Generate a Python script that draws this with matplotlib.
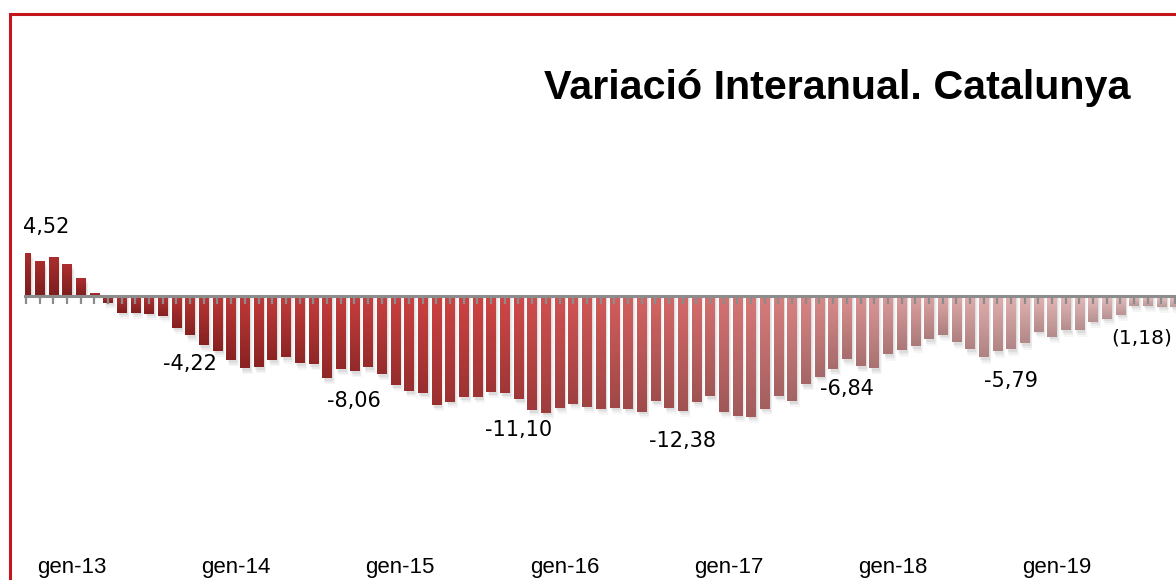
import numpy as np
import matplotlib
matplotlib.use("Agg")
import matplotlib.pyplot as plt
from matplotlib.colors import LinearSegmentedColormap, to_rgb
from matplotlib.patches import Rectangle
from matplotlib.transforms import blended_transform_factory

# monthly year-on-year variation, Catalunya (one bar per month, gen-13 onward)
values = [4.52, 3.65, 4.07, 3.34, 1.86, 0.28, -0.74, -1.79, -1.79, -1.93,
          -2.11, -3.37, -4.21, -5.26, -5.86, -6.84, -7.68, -7.58, -6.84, -6.53,
          -7.16, -7.26, -8.74, -7.79, -8.00, -7.58, -8.32, -9.47, -10.11, -10.32,
          -11.58, -11.26, -10.74, -10.74, -10.21, -10.32, -10.95, -12.11, -12.42, -11.89,
          -11.47, -11.79, -12.00, -11.89, -12.00, -12.32, -11.16, -11.89, -12.21, -11.26,
          -10.63, -12.32, -12.74, -12.84, -12.00, -10.63, -11.16, -9.37, -8.60, -7.79,
          -6.74, -7.47, -7.68, -6.21, -5.79, -5.37, -4.63, -4.11, -4.95, -5.68,
          -6.53, -5.89, -5.68, -5.05, -3.79, -4.32, -3.68, -3.68, -2.74, -2.42,
          -2.00, -1.05, -1.05, -1.16, -1.16]

year_labels = ["gen-13", "gen-14", "gen-15", "gen-16", "gen-17", "gen-18", "gen-19"]

# data labels written on the chart: (month index, text)
note_idx = [1.5, 12, 24, 36, 48, 60, 72]
note_txt = ["4,52", "-4,22", "-8,06", "-11,10", "-12,38", "-6,84", "-5,79"]
note_y = [7.27, -7.23, -11.14, -14.2, -15.4, -9.87, -9.03]
last_note = "(1,18)"

n = len(values)
x = np.arange(n)

fig = plt.figure(figsize=(11.76, 5.8), dpi=100)
W, H = 1176.0, 580.0
ax = fig.add_axes([25 / W, 1 - 545 / H, 1151 / W, 531 / H])
ax.patch.set_alpha(0)

light = LinearSegmentedColormap.from_list("light", ["#a82c2c", "#c23a3a", "#d04444", "#d67070", "#e0a8a8", "#ebc6c6"])
dark = LinearSegmentedColormap.from_list("dark", ["#7a1d1d", "#8a2222", "#9e3434", "#a05656", "#ad7e7e", "#bc9a9a"])

bw = 0.69
for i, v in zip(x, values):
    t = i / (n - 1)
    c1 = np.array(to_rgb(light(t)))
    c2 = np.array(to_rgb(dark(t)))
    # soft shadow under each bar
    for dx, dy, a in [(0.10, 0.25, 0.10), (0.16, 0.45, 0.07), (0.22, 0.65, 0.05)]:
        ax.add_patch(Rectangle((i - bw / 2 + dx, 0), bw, v - dy,
                               facecolor="#606060", alpha=a, lw=0, zorder=1))
    grad = np.linspace(0, 1, 64)[:, None, None]
    img = c1[None, None, :] * (1 - grad) + c2[None, None, :] * grad
    top, bot = (v, 0) if v > 0 else (0, v)
    ax.imshow(img, extent=[i - bw / 2, i + bw / 2, bot, top], origin="upper",
              aspect="auto", interpolation="bilinear", zorder=2)
ax.set_xlim(-0.07, 84.06)
ax.set_ylim(-26.38, 29.81)

for s in ["top", "right", "left"]:
    ax.spines[s].set_visible(False)
ax.spines["bottom"].set_position(("data", 0))
ax.spines["bottom"].set_color("#8c8c8c")
ax.spines["bottom"].set_linewidth(2.2)
ax.spines["bottom"].set_zorder(5)
ax.xaxis.set_zorder(5)
ax.set_yticks([])
ax.set_xticks([])
ax.set_xticks(x, minor=True)
ax.tick_params(axis="x", which="minor", length=6, width=1.6, color="#8c8c8c", direction="out")
ax.tick_params(axis="x", which="minor", labelbottom=False)

trans = blended_transform_factory(ax.transData, fig.transFigure)
for k, lab in enumerate(year_labels):
    ax.text(3.36 + 12 * k, 1 - 567 / H, lab, transform=trans, ha="center", va="center",
            fontsize=16, family="Liberation Sans", color="black")

for xi, yi, tx in zip(note_idx, note_y, note_txt):
    ax.text(xi, yi, tx, ha="center", va="center", fontsize=15, color="black", zorder=6)
ax.text(79.3, -4.47, last_note, ha="left", va="center", fontsize=14.5,
        color="black", zorder=6, clip_on=False)

fig.text(1130 / W, 1 - 88 / H, "Variació Interanual. Catalunya", ha="right", va="center",
         fontsize=29.7, fontweight="bold", family="Liberation Sans")

# red frame around the chart area (continues past the crop)
fig.add_artist(Rectangle((9.5 / W, -0.1), 1.2, 1 - 14 / H + 0.1, transform=fig.transFigure,
                         fill=False, edgecolor="#c4161c", lw=2.2))

fig.savefig("out.png", dpi=100)
